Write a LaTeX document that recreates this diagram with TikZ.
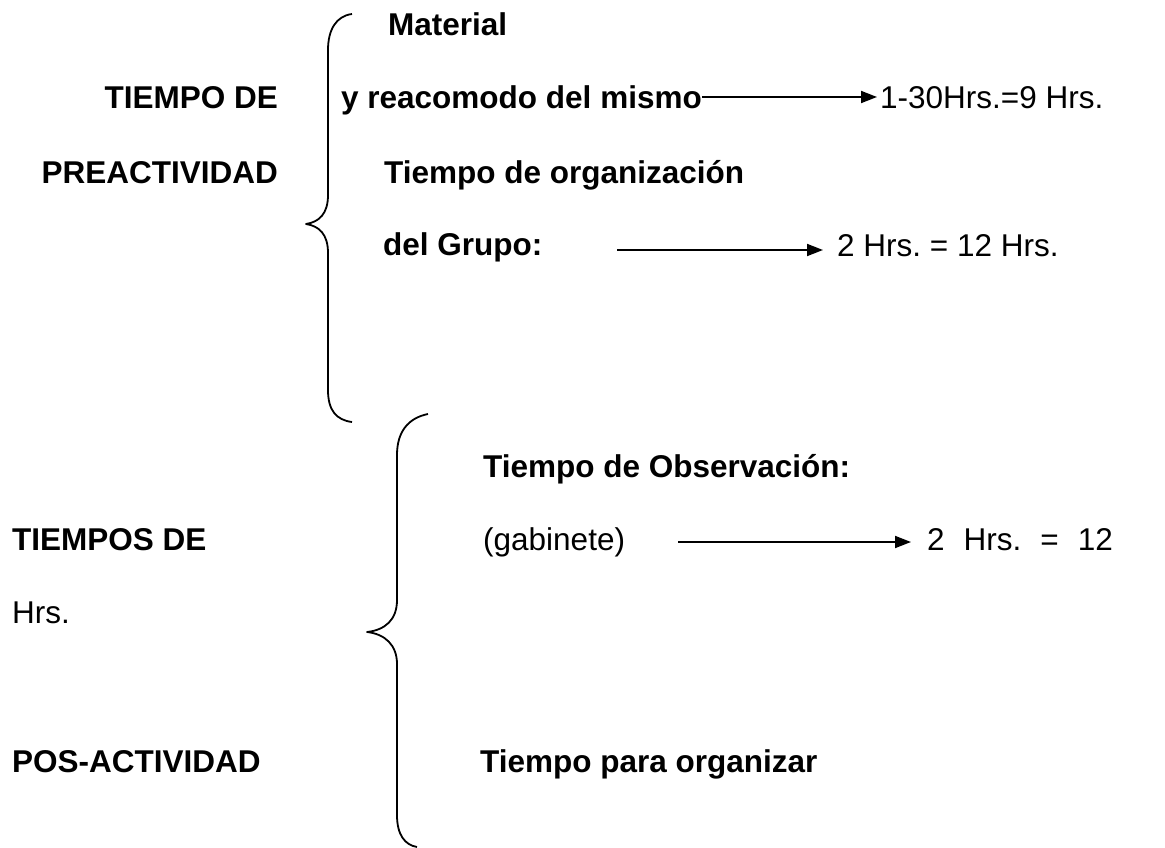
\documentclass[tikz,border=0pt]{standalone}
\usepackage{fontspec}
\setmainfont{Liberation Sans}
\usetikzlibrary{positioning, arrows.meta, calc}
\frenchspacing

\begin{document}
\begin{tikzpicture}[
        x=1pt, y=-1pt,
        >={Triangle[length=16pt, width=12pt]},
        head/.style={inner sep=0pt, font=\fontsize{31.5}{38}\selectfont\bfseries},
        plain/.style={inner sep=0pt, font=\fontsize{31.5}{38}\selectfont},
        brace/.style={line width=1.8pt, line join=round},
        arr/.style={->, line width=1.8pt},
    ]
        \useasboundingbox (0,0) rectangle (1165,848);

        % Draw the left titles of the upper group
        \node[head, anchor=base east] (tde) at (278,109) {TIEMPO DE};
        \node[head, anchor=base east] (pre) at (278,183) {PREACTIVIDAD};

        % Draw the items of the upper group
        \node[head, anchor=base west] (mat) at (388,36) {Material};
        \node[head, anchor=base west] (mismo) at (341,109) {y reacomodo del mismo};
        \node[head, anchor=base west] (org) at (384,183) {Tiempo de organizaci\'on};
        \node[head, anchor=base west] (grupo) at (383,255) {del Grupo:};
        \node[plain, anchor=base west] (val1) at (880,109) {1-30Hrs.=9 Hrs.};
        \node[plain, anchor=base west] (val2) at (837,256) {2 Hrs. = 12 Hrs.};

        % Draw the left titles of the lower group
        \node[head, anchor=base west] (tsde) at (12,550) {TIEMPOS DE};
        \node[plain, anchor=base west] (hrs) at (12,623) {Hrs.};
        \node[head, anchor=base west] (pos) at (12,772) {POS-ACTIVIDAD};

        % Draw the items of the lower group
        \node[head, anchor=base west] (obs) at (483,477) {Tiempo de Observaci\'on:};
        \node[plain, anchor=base west] (gab) at (483,550) {(gabinete)};
        \node[head, anchor=base west] (para) at (480,772) {Tiempo para organizar};
        \node[plain, anchor=base west] (val3) at (927,550) {2\hspace{19pt}Hrs.\hspace{19pt}=\hspace{19pt}12};

        % Free start points of the arrows
        \coordinate (s2) at (617,250);
        \coordinate (s3) at (678,542);

        % Connect the items with their values
        \draw[arr] ($(mismo.base east)+(0,-12)$) -- ($(val1.base west)+(-3,-12)$);
        \draw[arr] (s2) -- ($(val2.base west)+(-14,-6)$);
        \draw[arr] (s3) -- ($(val3.base west)+(-16,-8)$);

        % Draw the braces
        \draw[brace] (352,14) .. controls (336,16) and (328,30) .. (328,50)
            -- (328,195) .. controls (328,214) and (319,222) .. (306,224)
            .. controls (319,226) and (328,234) .. (328,253)
            -- (328,390) .. controls (328,410) and (336,420) .. (352,422);
        \draw[brace] (428,414) .. controls (408,418) and (397,432) .. (397,455)
            -- (397,600) .. controls (397,620) and (385,630) .. (367,632)
            .. controls (385,634) and (397,645) .. (397,664)
            -- (397,815) .. controls (397,835) and (405,845) .. (417,847);
    \end{tikzpicture}
\end{document}
